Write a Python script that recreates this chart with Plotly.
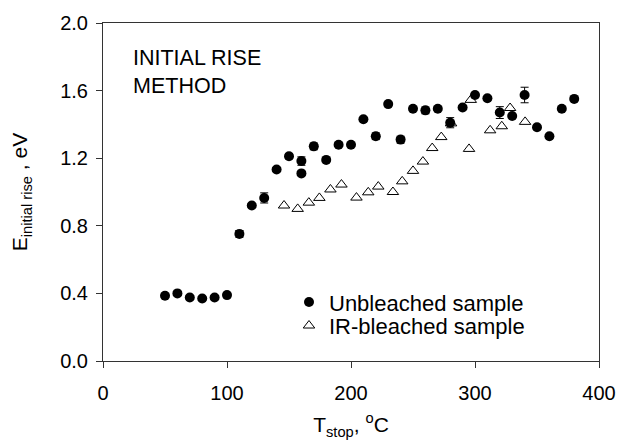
import plotly.graph_objects as go

# Unbleached sample (filled circles)
t_unbleached = [50, 60, 70, 80, 90, 100, 110, 120, 130, 140, 150, 160, 160, 170, 180,
                190, 200, 210, 220, 230, 240, 250, 260, 270, 280, 290, 300, 310, 320,
                330, 340, 350, 360, 370, 380]
e_unbleached = [0.386, 0.40, 0.376, 0.37, 0.376, 0.39, 0.752, 0.92, 0.965, 1.133, 1.212,
                1.183, 1.11, 1.27, 1.19, 1.28, 1.28, 1.43, 1.33, 1.52, 1.31, 1.493, 1.483,
                1.493, 1.41, 1.50, 1.574, 1.555, 1.47, 1.45, 1.574, 1.383, 1.33, 1.493, 1.551]
err_unbleached = [0.005, 0.005, 0.005, 0.005, 0.005, 0.005, 0.02, 0.01, 0.03, 0.01, 0.015,
                  0.025, 0.005, 0.02, 0.01, 0.01, 0.01, 0.005, 0.02, 0.005, 0.02, 0.01, 0.02,
                  0.01, 0.03, 0.005, 0.005, 0.005, 0.035, 0.005, 0.046, 0.005, 0.005, 0.005, 0.005]

# IR-bleached sample (open triangles)
t_bleached = [146, 157, 166, 174.5, 183.4, 192.3, 204.4, 213.9, 222, 233.8, 241.3, 250,
              258, 265.5, 272.8, 280.7, 295.2, 296.6, 312.2, 321.6, 328.3, 340.4]
e_bleached = [0.92, 0.90, 0.937, 0.965, 1.015, 1.044, 0.967, 0.998, 1.032, 1.00, 1.063,
              1.125, 1.18, 1.26, 1.325, 1.406, 1.255, 1.545, 1.365, 1.389, 1.497, 1.415]

x_ticks = [0, 100, 200, 300, 400]
y_ticks = [0.0, 0.4, 0.8, 1.2, 1.6, 2.0]

FONT = "Liberation Sans, Arial, sans-serif"
PL, PR, PT, PB = 103, 599, 16, 361  # plot area in px
W, H = 632, 445


def px_x(px):
    return (px - PL) / (PR - PL)


def px_y(py):
    return (PB - py) / (PB - PT)


fig = go.Figure()
fig.add_trace(go.Scatter(
    x=t_unbleached, y=e_unbleached, mode="markers", name="Unbleached sample",
    marker=dict(symbol="circle", size=10, color="black"),
    error_y=dict(type="data", array=err_unbleached, visible=True, color="black",
                 thickness=1, width=4),
    legend="legend",
))
fig.add_trace(go.Scatter(
    x=t_bleached, y=e_bleached, mode="markers", name="IR-bleached sample",
    marker=dict(symbol="triangle-up-open", size=10, color="black", line=dict(width=1)),
    legend="legend2",
))

fig.add_annotation(
    text="INITIAL RISE<br>METHOD", xref="paper", yref="paper",
    x=px_x(131), y=px_y(37), xanchor="left", yanchor="top",
    align="left", showarrow=False, font=dict(family=FONT, size=21.5, color="black"),
)

axis_common = dict(
    showline=True, linecolor="#333", linewidth=1, mirror=True,
    ticks="outside", ticklen=6, tickcolor="#333", tickwidth=1,
    showgrid=False, zeroline=False,
    tickfont=dict(family=FONT, size=20, color="black"),
)

legend_common = dict(xanchor="left", yanchor="middle", bgcolor="rgba(0,0,0,0)",
                     font=dict(family=FONT, size=22, color="black"),
                     itemsizing="trace", borderwidth=0)

fig.update_layout(
    width=W, height=H,
    margin=dict(l=PL, r=W - PR, t=PT, b=H - PB),
    paper_bgcolor="white", plot_bgcolor="white",
    font=dict(family=FONT, size=20, color="black"),
    xaxis=dict(range=[0, 400], tickvals=x_ticks, ticktext=[str(v) for v in x_ticks],
               ticklabelstandoff=8,
               title=dict(text="T<sub>stop</sub>, <sup>o</sup>C", standoff=14,
                          font=dict(family=FONT, size=21)), **axis_common),
    yaxis=dict(range=[0, 2.0], tickvals=y_ticks, ticktext=[f"{v:.1f}" for v in y_ticks],
               ticklabelstandoff=4,
               title=dict(text="E<sub>initial rise</sub> , eV", standoff=26,
                          font=dict(family=FONT, size=21)), **axis_common),
    showlegend=True,
    legend=dict(x=px_x(289), y=px_y(301), **legend_common),
    legend2=dict(x=px_x(289), y=px_y(325), **legend_common),
)

fig.write_html("out.html")
